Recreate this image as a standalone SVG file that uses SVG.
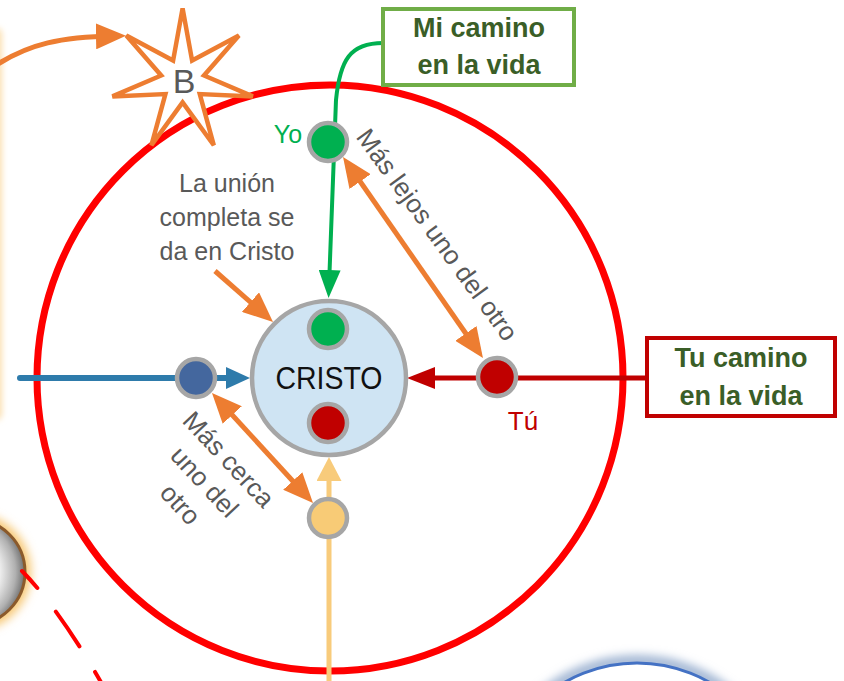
<svg xmlns="http://www.w3.org/2000/svg" width="844" height="681" viewBox="0 0 844 681">
<style>
.lbl{font-family:"Liberation Sans",Arial,sans-serif;fill:#595959;}
.box{font-family:"Liberation Sans",Arial,sans-serif;font-weight:bold;fill:#3a5e27;font-size:27px;}
.ring{stroke:#a6a6a6;stroke-width:4.5;}
.oarrow{stroke:#ed7d31;stroke-width:5;fill:none;}
</style>
<defs>
<marker id="mO" viewBox="0 0 30 26" refX="18" refY="13" markerWidth="30" markerHeight="26" markerUnits="userSpaceOnUse" orient="auto-start-reverse"><path d="M0,0 L30,13 L0,26 z" fill="#ed7d31"/></marker>
<marker id="mG" viewBox="0 0 28 22" refX="16" refY="11" markerWidth="28" markerHeight="22" markerUnits="userSpaceOnUse" orient="auto"><path d="M0,0 L28,11 L0,22 z" fill="#00b050"/></marker>
<marker id="mR" viewBox="0 0 28 22" refX="16" refY="11" markerWidth="28" markerHeight="22" markerUnits="userSpaceOnUse" orient="auto"><path d="M0,0 L28,11 L0,22 z" fill="#c00000"/></marker>
<marker id="mB" viewBox="0 0 24 22" refX="12" refY="11" markerWidth="24" markerHeight="22" markerUnits="userSpaceOnUse" orient="auto"><path d="M0,0 L24,11 L0,22 z" fill="#2e7bab"/></marker>
<marker id="mY" viewBox="0 0 24 25" refX="12" refY="12.5" markerWidth="24" markerHeight="25" markerUnits="userSpaceOnUse" orient="auto"><path d="M0,0 L24,12.5 L0,25 z" fill="#f8cb7b"/></marker>
<filter id="blur3" x="-50%" y="-50%" width="200%" height="200%"><feGaussianBlur stdDeviation="3"/></filter>
<filter id="blur5" x="-50%" y="-50%" width="200%" height="200%"><feGaussianBlur stdDeviation="5"/></filter>
<radialGradient id="btn" cx="40%" cy="50%" r="60%">
<stop offset="0" stop-color="#ffffff"/>
<stop offset="0.6" stop-color="#f0f0f0"/>
<stop offset="0.85" stop-color="#b0b0b0"/>
<stop offset="1" stop-color="#6e6e6e"/>
</radialGradient>
</defs>

<g id="left-band">
<rect x="-40" y="28" width="42" height="392" rx="6" fill="#fbe0b0" filter="url(#blur3)"/>
</g>
<g id="left-circle">
<circle cx="-28" cy="572" r="59" fill="#f7c875" filter="url(#blur5)"/>
<circle cx="-28" cy="572" r="53" fill="url(#btn)" stroke="#8b5a2b" stroke-width="3"/>
</g>
<g id="blue-circle">
<circle cx="637" cy="808" r="147" fill="none" stroke="#9fb4d2" stroke-width="12" filter="url(#blur5)"/>
<circle cx="637" cy="808" r="145" fill="#ffffff" stroke="#4472c4" stroke-width="3"/>
</g>
<path id="dashed-red" d="M22,571 Q60,610 102,684" fill="none" stroke="#ff0000" stroke-width="4" stroke-linecap="round" stroke-dasharray="42 30" stroke-dashoffset="19"/>

<g id="big-circle">
<circle cx="330" cy="378" r="293" fill="none" stroke="#ff0000" stroke-width="7"/>
</g>

<g id="star-B">
<polygon points="182.6,8.4 192.1,60.6 238.9,35.5 204,75.5 252.8,96.4 199.8,94.1 213.8,145.3 182.6,102.4 151.4,145.3 165.4,94.1 112.4,96.4 161.2,75.5 126.3,35.5 173.1,60.6" fill="#ffffff" stroke="#ed7d31" stroke-width="4.5" stroke-linejoin="miter"/>
<text x="184" y="93" class="lbl" font-size="34" text-anchor="middle">B</text>
</g>

<g id="connectors">
<path d="M-2,64 C30,44 60,37 114,36" class="oarrow" marker-end="url(#mO)"/>
<path d="M383,43 C350,43 340,60 336,100 L329,286" fill="none" stroke="#00b050" stroke-width="4" marker-end="url(#mG)"/>
<path d="M647,378 L419,378" fill="none" stroke="#c00000" stroke-width="5" marker-end="url(#mR)"/>
<path d="M20,378 L238,378" fill="none" stroke="#2e7bab" stroke-width="6" stroke-linecap="round" marker-end="url(#mB)"/>
<path d="M329,690 L329,469" fill="none" stroke="#f8cb7b" stroke-width="5" marker-end="url(#mY)"/>
<path d="M215,271 L264,314" class="oarrow" marker-end="url(#mO)"/>
<path d="M349.9,166.8 L476.1,348.2" class="oarrow" marker-start="url(#mO)" marker-end="url(#mO)"/>
<path d="M220.1,401.8 L304.9,494.2" class="oarrow" marker-start="url(#mO)" marker-end="url(#mO)"/>
</g>

<g id="cristo">
<circle cx="329" cy="378" r="77" fill="#cfe4f3" class="ring"/>
<text x="329" y="389" font-family="Liberation Sans,Arial,sans-serif" font-size="31" fill="#111111" text-anchor="middle" textLength="107" lengthAdjust="spacingAndGlyphs">CRISTO</text>
<circle cx="328" cy="329" r="19" fill="#00b050" class="ring"/>
<circle cx="328" cy="423" r="19" fill="#c00000" class="ring"/>
</g>

<g id="yo">
<circle cx="328" cy="142" r="19" fill="#00b050" class="ring"/>
<text x="288" y="143" font-family="Liberation Sans,Arial,sans-serif" font-size="25" fill="#00b050" text-anchor="middle">Yo</text>
</g>
<g id="tu">
<circle cx="497" cy="377" r="19" fill="#c00000" class="ring"/>
<text x="523" y="430" font-family="Liberation Sans,Arial,sans-serif" font-size="26" fill="#c00000" text-anchor="middle">Tú</text>
</g>
<g id="blue-node">
<circle cx="196" cy="378" r="19" fill="#44679e" class="ring"/>
</g>
<g id="yellow-node">
<circle cx="328" cy="518" r="19" fill="#f8cb76" class="ring"/>
</g>

<g id="mi-camino">
<rect x="383" y="9" width="191" height="76" fill="#ffffff" stroke="#70ad47" stroke-width="4"/>
<text x="479" y="37" class="box" text-anchor="middle">Mi camino</text>
<text x="479" y="74" class="box" text-anchor="middle">en la vida</text>
</g>
<g id="tu-camino">
<rect x="647" y="338" width="188" height="78" fill="#ffffff" stroke="#c00000" stroke-width="4"/>
<text x="741" y="367" class="box" text-anchor="middle">Tu camino</text>
<text x="741" y="405" class="box" text-anchor="middle">en la vida</text>
</g>

<g id="label-union">
<text class="lbl" font-size="25" text-anchor="middle"><tspan x="227" y="192">La unión</tspan><tspan x="227" y="226">completa se</tspan><tspan x="227" y="260">da en Cristo</tspan></text>
</g>
<g id="label-lejos">
<text class="lbl" font-size="26" text-anchor="middle" transform="translate(430,240) rotate(54)">Más lejos uno del otro</text>
</g>
<g id="label-cerca">
<text class="lbl" font-size="26" text-anchor="middle" transform="translate(198,488) rotate(47)"><tspan x="0" y="-33">Más cerca</tspan><tspan x="0" y="0">uno del</tspan><tspan x="0" y="33">otro</tspan></text>
</g>
</svg>
